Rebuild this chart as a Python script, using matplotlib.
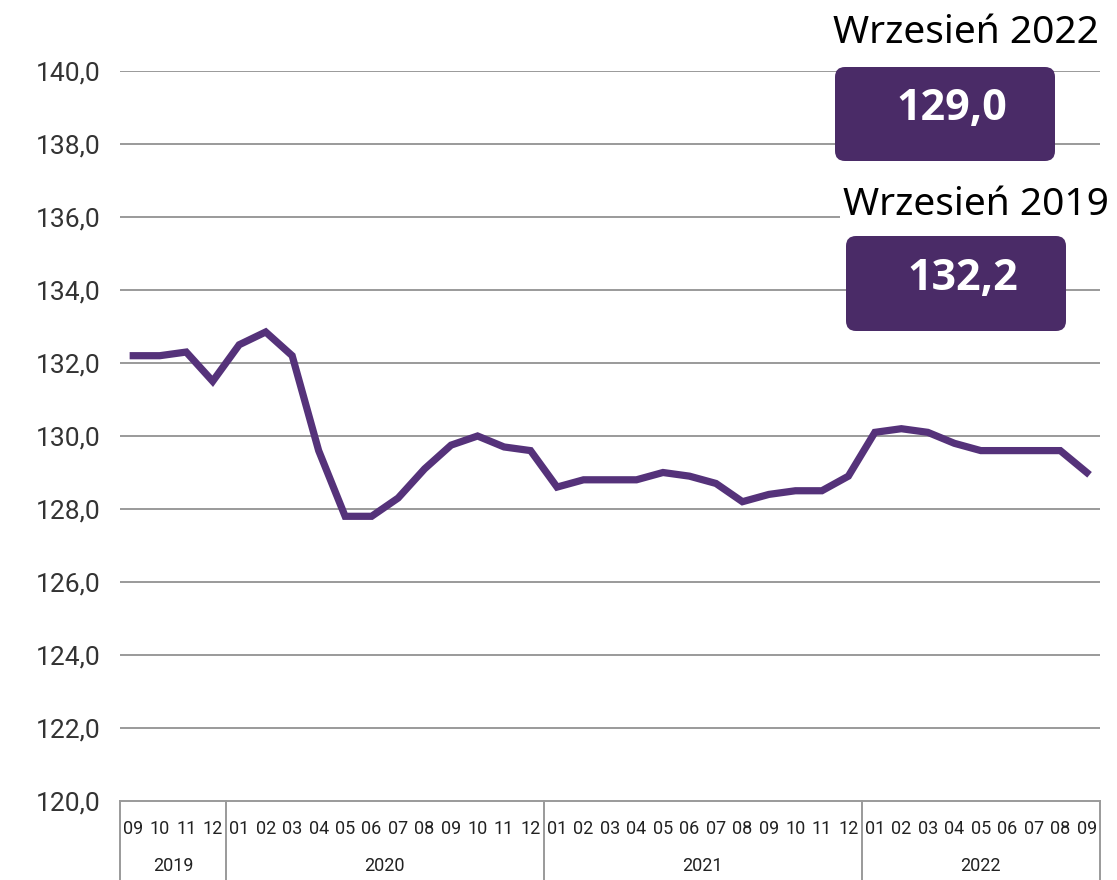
import matplotlib
matplotlib.use("Agg")
import matplotlib.pyplot as plt
from matplotlib.patches import FancyBboxPatch

plt.rcParams["font.family"] = ["Noto Sans", "DejaVu Sans"]

# monthly values, 2019-09 .. 2022-09
values = [132.2, 132.2, 132.3, 131.5,
          132.5, 132.85, 132.2, 129.6, 127.8, 127.8, 128.3, 129.1, 129.75, 130.0, 129.7, 129.6,
          128.6, 128.8, 128.8, 128.8, 129.0, 128.9, 128.7, 128.2, 128.4, 128.5, 128.5, 128.9,
          130.1, 130.2, 130.1, 129.8, 129.6, 129.6, 129.6, 129.6, 129.0]
months = ["09", "10", "11", "12"] + ["%02d" % m for m in range(1, 13)] * 2 + ["%02d" % m for m in range(1, 10)]
years = ["2019", "2020", "2021", "2022"]
year_counts = [4, 12, 12, 9]
yticks = [120, 122, 124, 126, 128, 130, 132, 134, 136, 138, 140]

box_labels = ["Wrzesień 2022", "Wrzesień 2019"]
box_values = ["129,0", "132,2"]

W, H = 1117, 880
fig = plt.figure(figsize=(W / 100, H / 100), dpi=100)
ax = fig.add_axes([120 / W, (H - 801) / H, 980 / W, 730 / H])

line_col = "#55327a"
grid_col = "#9a9a9a"

x = list(range(len(values)))
ax.plot(x, values, color=line_col, lw=5.2, solid_joinstyle="miter", zorder=3)
ax.set_xlim(-0.5, len(values) - 0.5)
ax.set_ylim(120, 140)

for v in yticks[1:]:
    ax.axhline(v, color=grid_col, lw=1.4, zorder=1)

ax.set_yticks(yticks)
ax.set_yticklabels([("%.1f" % v).replace(".", ",") for v in yticks],
                   fontsize=19, color="#333333", family=["Roboto", "DejaVu Sans"])
ax.tick_params(axis="y", length=0, pad=14)
ax.set_xticks([])
for s in ax.spines.values():
    s.set_visible(False)

# category table under the plot
tr = ax.get_xaxis_transform()
ax.plot([-0.5, len(values) - 0.5], [0, 0], color=grid_col, lw=1.4, transform=tr, clip_on=False)
edges = [-0.5]
for c in year_counts:
    edges.append(edges[-1] + c)
for e in edges:
    ax.plot([e, e], [0, -0.12], color=grid_col, lw=1.4, transform=tr, clip_on=False)
for i, m in enumerate(months):
    ax.text(i, -0.038, m, ha="center", va="center", fontsize=13, color="#222222",
            family=["Roboto", "DejaVu Sans"], transform=tr, clip_on=False)
for k, yr in enumerate(years):
    ax.text((edges[k] + edges[k + 1]) / 2, -0.089, yr, ha="center", va="center",
            fontsize=13, color="#222222", family=["Roboto", "DejaVu Sans"],
            transform=tr, clip_on=False)

# highlighted value boxes
box_col = "#4a2b67"
boxes = [(835, 67, 220, 94), (846, 236, 220, 95)]
titles = [(966, 33), (976, 205)]
for (bx, by, bw, bh), (tx, ty), lab, val in zip(boxes, titles, box_labels, box_values):
    p = FancyBboxPatch((bx / 100, (H - by - bh) / 100), bw / 100, bh / 100,
                       boxstyle="round,pad=0,rounding_size=0.1", transform=fig.dpi_scale_trans,
                       facecolor=box_col, edgecolor="none", zorder=5)
    fig.patches.append(p)
    fig.text((bx + bw / 2 + 7) / W, 1 - (by + bh / 2 - 5) / H, val, ha="center", va="center",
             fontsize=31, fontweight="bold", color="white", family=["Open Sans", "DejaVu Sans"],
             zorder=6)
    fig.text(tx / W, 1 - ty / H, lab, ha="center", va="center", fontsize=28, color="black",
             zorder=6, bbox=dict(facecolor="white", edgecolor="none", pad=2))

fig.savefig("out.png", dpi=100)
